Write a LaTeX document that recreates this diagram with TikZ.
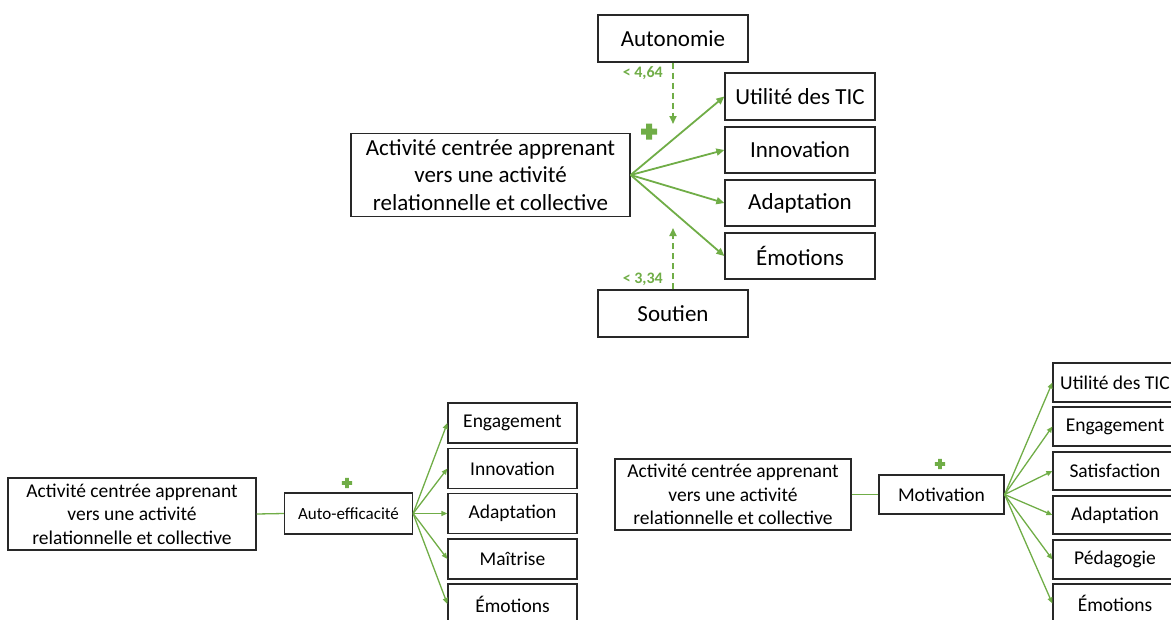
\documentclass[tikz,border=0pt]{standalone}
\usepackage{fontspec}
\setmainfont{Carlito}
\usetikzlibrary{arrows.meta}
\definecolor{grn}{RGB}{112,173,71}
\definecolor{boxline}{RGB}{40,40,40}
\begin{document}
\begin{tikzpicture}[x=1pt,y=-1pt,
  bigbox/.style={draw=boxline, line width=1.3pt, fill=white, align=center, inner sep=0pt,
    font=\fontsize{23}{27.6}\selectfont},
  smallbox/.style={draw=boxline, line width=1.2pt, fill=white, align=center, inner sep=0pt,
    font=\fontsize{19.5}{23.4}\selectfont},
  bigarrow/.style={draw=grn, line width=1.8pt, -{Triangle[length=8pt,width=7pt]}},
  smallarrow/.style={draw=grn, line width=1.3pt, -{Triangle[length=6pt,width=5pt]}},
  link/.style={draw=grn, line width=1.3pt},
  dasharrow/.style={draw=grn, line width=1.8pt, dash pattern=on 6pt off 4pt, -{Triangle[length=8pt,width=7pt]}},
  val/.style={text=grn, font=\bfseries\fontsize{16}{18}\selectfont, inner sep=0pt},
  greenplus/.pic={\fill[grn] (-3,-8) -- (3,-8) -- (3,-3) -- (8,-3) -- (8,3) -- (3,3) -- (3,8) -- (-3,8) -- (-3,3) -- (-8,3) -- (-8,-3) -- (-3,-3) -- cycle;}
]
\useasboundingbox (0,0) rectangle (1171,619);

% ---------- top diagram ----------
\node[bigbox, minimum width=150pt, minimum height=47pt] (auto) at (673,38.5) {Autonomie};
\node[bigbox, minimum width=279pt, minimum height=83pt] (cen) at (490.5,175) {Activité centrée apprenant\\vers une activité\\relationnelle et collective};
\node[bigbox, minimum width=150pt, minimum height=47pt] (u1) at (800,96.5) {Utilité des TIC};
\node[bigbox, minimum width=150pt, minimum height=46pt] (i1) at (800,150) {Innovation};
\node[bigbox, minimum width=150pt, minimum height=46pt] (a1) at (800,203) {Adaptation};
\node[bigbox, minimum width=150pt, minimum height=46pt] (e1) at (800,256) {Émotions};
\node[bigbox, minimum width=150pt, minimum height=47pt] (sou) at (673,313.5) {Soutien};

\coordinate (autotip) at (673,124);
\coordinate (soutip) at (673,228);
\draw[dasharrow] (auto.south) -- (autotip);
\draw[dasharrow] (sou.north) -- (soutip);
\node[val, anchor=east] (v1) at (663,73.5) {< 4,64};
\node[val, anchor=east] (v2) at (663,279) {< 3,34};
\pic at (649,131.5) {greenplus};

\foreach \t in {u1,i1,a1,e1}
  \draw[bigarrow] (cen.east) -- (\t.west);

% ---------- bottom left diagram ----------
\node[smallbox, minimum width=248pt, minimum height=72pt] (bl) at (132,514) {Activité centrée apprenant\\vers une activité\\relationnelle et collective};
\node[smallbox, minimum width=128pt, minimum height=41pt, font=\fontsize{17}{20}\selectfont] (ae) at (348.5,513.5) {Auto-efficacité};
\node[smallbox, minimum width=129pt, minimum height=40pt] (eng1) at (512.5,423) {Engagement};
\node[smallbox, minimum width=129pt, minimum height=40pt] (inn1) at (512.5,468.5) {Innovation};
\node[smallbox, minimum width=129pt, minimum height=40pt] (ada1) at (512.5,513.5) {Adaptation};
\node[smallbox, minimum width=129pt, minimum height=40pt] (mai1) at (512.5,559) {Maîtrise};
\node[smallbox, minimum width=129pt, minimum height=40pt] (emo1) at (512.5,604) {Émotions};
\draw[link] (bl.east) -- (ae.west);
\pic[scale=0.65] at (347,483) {greenplus};
\foreach \t in {eng1,inn1,ada1,mai1,emo1}
  \draw[smallarrow] (ae.east) -- (\t.west);

% ---------- bottom right diagram ----------
\node[smallbox, minimum width=236pt, minimum height=71pt] (br) at (733,494.5) {Activité centrée apprenant\\vers une activité\\relationnelle et collective};
\node[smallbox, minimum width=125pt, minimum height=39pt] (mot) at (941.5,494.5) {Motivation};
\node[smallbox, minimum width=124pt, minimum height=39pt] (u2) at (1115,382.5) {Utilité des TIC};
\node[smallbox, minimum width=124pt, minimum height=39pt] (eng2) at (1115,426.5) {Engagement};
\node[smallbox, minimum width=124pt, minimum height=38pt] (sat2) at (1115,471) {Satisfaction};
\node[smallbox, minimum width=124pt, minimum height=38pt] (ada2) at (1115,515) {Adaptation};
\node[smallbox, minimum width=124pt, minimum height=39pt] (ped2) at (1115,559.5) {Pédagogie};
\node[smallbox, minimum width=124pt, minimum height=39pt] (emo2) at (1115,603.5) {Émotions};
\draw[link] (br.east) -- (mot.west);
\pic[scale=0.65] at (940,464) {greenplus};
\foreach \t in {u2,eng2,sat2,ada2,ped2,emo2}
  \draw[smallarrow] (mot.east) -- (\t.west);
\end{tikzpicture}
\end{document}
